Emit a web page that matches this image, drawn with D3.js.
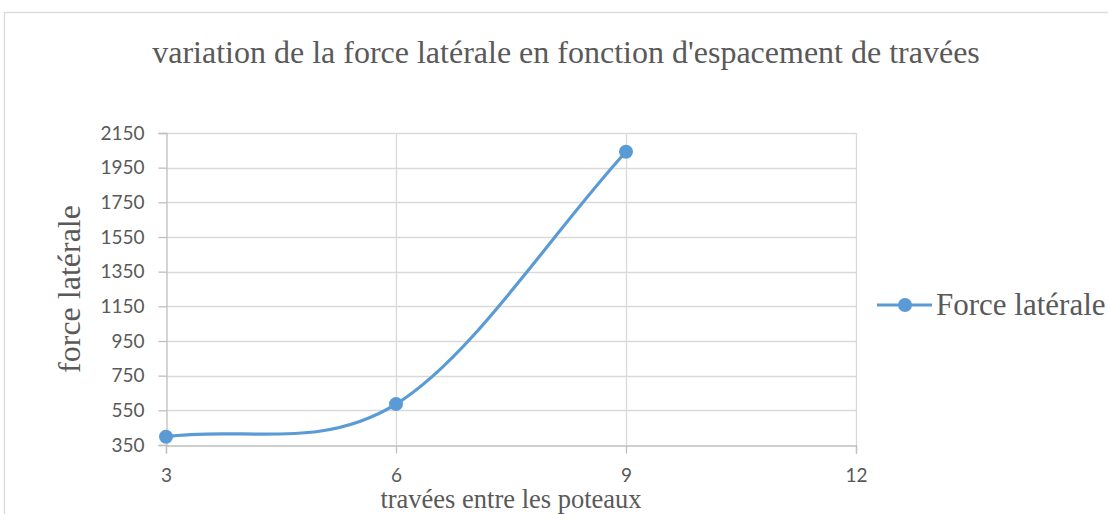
<!DOCTYPE html>
<html><head><meta charset="utf-8">
<script src="https://cdn.jsdelivr.net/npm/d3@7"></script>
<style>body{margin:0;background:#fff;} svg{display:block;}</style>
</head><body>
<svg id="c" width="1108" height="514"></svg>
<script>
const xValues = [3, 6, 9];
const forceValues = [398, 586, 2042];
const xTicks = [3, 6, 9, 12];
const yTicks = [350, 550, 750, 950, 1150, 1350, 1550, 1750, 1950, 2150];
const titleText = "variation de la force latérale en fonction d'espacement de travées";
const xTitle = "travées entre les poteaux";
const yTitle = "force latérale";
const seriesName = "Force latérale";

// Excel-style smoothed line as a d3 curve factory
function ExcelSmooth(context){ this._context = context; }
ExcelSmooth.prototype = {
  areaStart(){}, areaEnd(){},
  lineStart(){ this._pts = []; },
  point(x, y){ this._pts.push([+x, +y]); },
  lineEnd(){
    const p = this._pts, n = p.length, c = this._context;
    if (!n) return;
    c.moveTo(p[0][0], p[0][1]);
    if (n === 1) return;
    const d = p.map((q, i) => {
      if (i === 0) return [(p[1][0]-p[0][0])/3, (p[1][1]-p[0][1])/3];
      if (i === n-1) return [(p[n-1][0]-p[n-2][0])/3, (p[n-1][1]-p[n-2][1])/3];
      return [(p[i+1][0]-p[i-1][0])/6, (p[i+1][1]-p[i-1][1])/6];
    });
    for (let i = 0; i < n-1; i++) {
      c.bezierCurveTo(p[i][0]+d[i][0], p[i][1]+d[i][1],
                      p[i+1][0]-d[i+1][0], p[i+1][1]-d[i+1][1],
                      p[i+1][0], p[i+1][1]);
    }
  }
};
const excelCurve = ctx => new ExcelSmooth(ctx);

const svg = d3.select("#c");
const W = 1108, H = 514;
const m = {left:166, right:856, top:133, bottom:445};
const x = d3.scaleLinear().domain([3,12]).range([m.left, m.right]);
const y = d3.scaleLinear().domain([350,2150]).range([m.bottom, m.top]);
const blue = "#5b9bd5";
const serif = "'Liberation Serif','Times New Roman',serif";
const sans = "Lato, 'Open Sans', sans-serif";

// chart border
svg.append("rect").attr("x",4.5).attr("y",12.5).attr("width",W).attr("height",H)
  .attr("fill","none").attr("stroke","#d9d9d9").attr("stroke-width",1.3);

// gridlines
svg.append("g").selectAll("line").data(yTicks.slice(1)).join("line")
  .attr("x1",m.left).attr("x2",m.right).attr("y1",d=>Math.round(y(d))+0.5).attr("y2",d=>Math.round(y(d))+0.5)
  .attr("stroke","#d9d9d9").attr("stroke-width",1.3);
svg.append("g").selectAll("line").data(xTicks.slice(1)).join("line")
  .attr("y1",m.top).attr("y2",m.bottom).attr("x1",d=>Math.round(x(d))+0.5).attr("x2",d=>Math.round(x(d))+0.5)
  .attr("stroke","#d9d9d9").attr("stroke-width",1.3);

// axes
const yAxis = d3.axisLeft(y).tickValues(yTicks).tickSize(8).tickPadding(14).tickFormat(d3.format("d"));
const gy = svg.append("g").attr("transform",`translate(${m.left+0.5},0)`).call(yAxis);
const xAxis = d3.axisBottom(x).tickValues(xTicks).tickSize(8).tickPadding(15).tickFormat(d3.format("d"));
const gx = svg.append("g").attr("transform",`translate(0,${m.bottom+0.5})`).call(xAxis);
[gx, gy].forEach(g=>{
  g.selectAll(".domain").attr("stroke","#bfbfbf").attr("stroke-width",1.3);
  g.selectAll(".tick line").attr("stroke","#bfbfbf").attr("stroke-width",1.3);
  g.selectAll("text").attr("fill","#595959").style("font-family",sans).style("font-size","19px");
});

// line
const pts = xValues.map((d,i)=>[x(d), y(forceValues[i])]);
svg.append("path").attr("d", d3.line().curve(excelCurve)(pts))
  .attr("fill","none").attr("stroke",blue).attr("stroke-width",3.2).attr("stroke-linecap","round");
svg.append("g").selectAll("circle").data(pts).join("circle")
  .attr("cx",d=>d[0]).attr("cy",d=>d[1]).attr("r",7).attr("fill",blue);

// title
svg.append("text").attr("x",566).attr("y",63).attr("text-anchor","middle")
  .attr("fill","#595959").style("font-family",serif).style("font-size","32px").text(titleText);
// y title
svg.append("text").attr("transform","translate(80,289) rotate(-90)").attr("text-anchor","middle")
  .attr("fill","#595959").style("font-family",serif).style("font-size","32px").text(yTitle);
// x title
svg.append("text").attr("x",511).attr("y",508).attr("text-anchor","middle")
  .attr("fill","#595959").style("font-family",serif).style("font-size","26.5px").text(xTitle);

// legend
const ly = 305;
svg.append("line").attr("x1",877).attr("x2",932).attr("y1",ly).attr("y2",ly).attr("stroke",blue).attr("stroke-width",3.2);
svg.append("circle").attr("cx",905).attr("cy",ly).attr("r",7).attr("fill",blue);
svg.append("text").attr("x",936).attr("y",315).attr("fill","#595959")
  .style("font-family",serif).style("font-size","31px").text(seriesName);
</script>
</body></html>
